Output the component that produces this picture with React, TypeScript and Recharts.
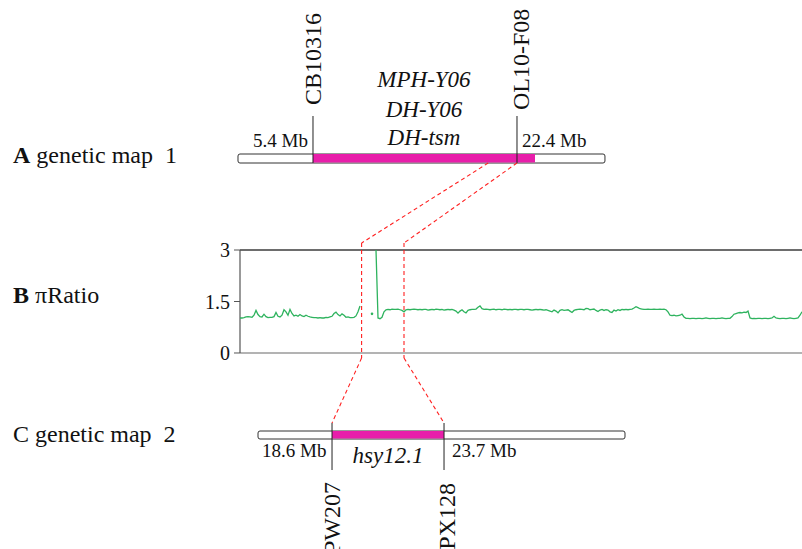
import React from 'react';
import {
  ComposedChart,
  Line,
  XAxis,
  YAxis,
  ReferenceLine,
  ReferenceArea,
  ReferenceDot
} from 'recharts';

// pi ratio per window (windows drawn 2 px apart), null = no data
const piRatio: (number | null)[] = [
  1.02, 1.02, 1.03, 1.05, 1.06, 1.05, 1.04, 1.10, 1.24, 1.12, 1.06, 1.05, 1.13, 1.06, 1.03, 1.04, 1.04, 1.06, 1.18, 1.07,
  1.05, 1.10, 1.26, 1.20, 1.10, 1.27, 1.15, 1.08, 1.10, 1.07, 1.12, 1.08, 1.06, 1.10, 1.07, 1.05, 1.04, 1.03, 1.03, 1.02,
  1.03, 1.02, 1.02, 1.04, 1.03, 1.05, 1.07, 1.15, 1.19, 1.12, 1.08, 1.14, 1.10, 1.04, 1.05, 1.03, 1.03, 1.04, 1.08, 1.20,
  1.37, null, null, null, null, null, 1.14, null, 3.0, 1.02, 1.00, 1.04, 1.20, 1.26, 1.27, 1.26, 1.28, 1.27, 1.27, 1.28,
  1.26, 1.24, 1.20, 1.26, 1.27, 1.26, 1.27, 1.28, 1.27, 1.26, 1.27, 1.26, 1.27, 1.27, 1.25, 1.26, 1.27, 1.26, 1.28, 1.27,
  1.26, 1.27, 1.25, 1.26, 1.27, 1.26, 1.27, 1.25, 1.22, 1.16, 1.22, 1.26, 1.20, 1.17, 1.24, 1.26, 1.27, 1.27, 1.28, 1.33,
  1.37, 1.29, 1.27, 1.28, 1.27, 1.26, 1.27, 1.28, 1.26, 1.27, 1.27, 1.26, 1.28, 1.27, 1.26, 1.27, 1.26, 1.27, 1.27, 1.26,
  1.27, 1.27, 1.26, 1.27, 1.27, 1.26, 1.25, 1.26, 1.27, 1.26, 1.27, 1.26, 1.25, 1.26, 1.24, 1.22, 1.20, 1.25, 1.22, 1.17,
  1.24, 1.26, 1.24, 1.25, 1.26, 1.22, 1.18, 1.24, 1.26, 1.27, 1.28, 1.27, 1.26, 1.30, 1.29, 1.26, 1.27, 1.28, 1.24, 1.21,
  1.25, 1.27, 1.24, 1.26, 1.25, 1.20, 1.18, 1.25, 1.22, 1.26, 1.24, 1.27, 1.26, 1.27, 1.26, 1.27, 1.28, 1.31, 1.35, 1.32,
  1.29, 1.28, 1.27, 1.27, 1.28, 1.27, 1.27, 1.28, 1.27, 1.27, 1.28, 1.27, 1.28, 1.26, 1.20, 1.10, 1.09, 1.10, 1.08, 1.09,
  1.10, 1.13, 1.05, 1.01, 1.01, 1.00, 1.01, 1.01, 1.00, 1.01, 1.01, 1.00, 1.01, 1.02, 1.01, 1.00, 1.01, 1.01, 1.00, 1.01,
  1.01, 1.02, 1.01, 1.00, 1.01, 1.01, 1.06, 1.13, 1.15, 1.17, 1.18, 1.17, 1.19, 1.18, 1.22, 1.02, 1.00, 1.01, 1.00, 1.01,
  1.01, 1.00, 1.01, 1.01, 1.00, 1.01, 1.02, 1.07, 1.02, 1.01, 1.00, 1.01, 1.01, 1.00, 1.01, 1.02, 1.01, 1.00, 1.01, 1.02,
  1.10, 1.20
];
const piTicks = [0, 1.5, 3];
const piRegion = [60.8, 82]; // window range linked to hsy12.1

// genetic map 1 (Mb)
const map1Chrom = [-0.85, 29.73];
const map1Qtl = [5.4, 23.9];
const map1Markers = [
  { name: 'CB10316', mb: 5.4, label: '5.4 Mb' },
  { name: 'OL10-F08', mb: 22.4, label: '22.4 Mb' }
];
const map1Genes = ['MPH-Y06', 'DH-Y06', 'DH-tsm'];
const map1Link = [20.0, 22.4];

// genetic map 2 (Mb)
const map2Chrom = [15.23, 31.94];
const map2Qtl = [18.6, 23.7];
const map2Markers = [
  { name: 'PW207', mb: 18.6, label: '18.6 Mb' },
  { name: 'PX128', mb: 23.7, label: '23.7 Mb' }
];
const map2Gene = 'hsy12.1';

const data = piRatio.map((v, i) => ({ i, ratio: v }));

const W = 802;
const H = 549;
const SERIF = '"Liberation Serif", "Times New Roman", serif';
const MAGENTA = '#e81eaa';
const GREEN = '#2eb35e';
const RED = '#ff2020';

const PI_DOMAIN = [0, 281];
const PI_Y_DOMAIN = [-5.709, 10.282];
// Mb ranges that the two maps stretch across the plot width
const M1_SPAN = [-0.683, 46.15];
const M2_SPAN = [14.41, 40.0];

// map Mb -> x on the shared window axis
const toPi = (v: number, d: number[]) =>
  PI_DOMAIN[0] + ((v - d[0]) / (d[1] - d[0])) * (PI_DOMAIN[1] - PI_DOMAIN[0]);
const m1 = (v: number) => toPi(v, M1_SPAN);
const m2 = (v: number) => toPi(v, M2_SPAN);

// row layout (px from top)
const ROW1 = { top: 154, bottom: 163, markTop: 116, mbBase: 146.5, geneBase: [87, 116.5, 145] };
const ROW2 = { top: 431, bottom: 439, markBottom: 470, mbBase: 457, geneBase: 463 };
const LINK_Y = { top: 243, bottom: 358, map2: 423 };

const txt = (content: string, o: any) => (p: any) => {
  const x = p.cx + (o.dx || 0);
  const y = p.cy;
  return (
    <text
      x={x}
      y={y}
      textAnchor={o.anchor || 'middle'}
      fontSize={o.size}
      fontStyle={o.italic ? 'italic' : 'normal'}
      fontFamily={SERIF}
      fill="#111"
      transform={o.rotate ? `rotate(-90 ${x} ${y})` : undefined}
    >
      {content}
    </text>
  );
};

const chromShape = (p: any) => (
  <rect x={p.x} y={p.y} width={p.width} height={p.height} rx={2} fill="#fff" stroke="#333" strokeWidth={1} />
);

const isolatedDot = (p: any) => {
  const i = p.index;
  const lone = piRatio[i] != null && piRatio[i - 1] == null && piRatio[i + 1] == null;
  if (!lone) return <g key={`d${i}`} />;
  return <circle key={`d${i}`} cx={p.cx} cy={p.cy} r={1.3} fill={GREEN} />;
};

const title = (top: number, bold: string, rest: string) => (
  <div
    style={{
      position: 'absolute',
      left: 13,
      top,
      fontFamily: SERIF,
      fontSize: 24,
      lineHeight: '24px',
      whiteSpace: 'pre',
      color: '#111'
    }}
  >
    {bold && <b>{bold}</b>}
    {rest}
  </div>
);

const App: React.FC = () => {
  const linkLeft = [
    { x: m1(map1Link[0]), y: ROW1.bottom },
    { x: piRegion[0], y: LINK_Y.top },
    { x: piRegion[0], y: LINK_Y.bottom },
    { x: m2(map2Qtl[0]), y: LINK_Y.map2 }
  ];
  const linkRight = [
    { x: m1(map1Link[1]), y: ROW1.bottom },
    { x: piRegion[1], y: LINK_Y.top },
    { x: piRegion[1], y: LINK_Y.bottom },
    { x: m2(map2Qtl[1]), y: LINK_Y.map2 }
  ];
  const ax = { xAxisId: 'pi', yAxisId: 'row' };

  return (
    <div style={{ position: 'relative', width: W, height: H, background: '#fff' }}>
      <style>{'body{margin:0}'}</style>
      <ComposedChart width={W} height={H} data={data} margin={{ top: 0, right: 0, bottom: 0, left: 0 }}>
        <XAxis xAxisId="pi" dataKey="i" type="number" domain={PI_DOMAIN} allowDataOverflow hide />
        <YAxis
          yAxisId="pi"
          type="number"
          width={240}
          domain={PI_Y_DOMAIN}
          allowDataOverflow
          ticks={piTicks}
          interval={0}
          axisLine={false}
          tickLine={{ stroke: '#555' }}
          tickSize={6}
          tickMargin={4}
          tick={{ fill: '#111', fontSize: 20, fontFamily: SERIF }}
        />
        <YAxis yAxisId="row" type="number" domain={[0, H]} reversed allowDataOverflow hide />

        {/* panel B frame */}
        <ReferenceLine xAxisId="pi" yAxisId="pi" y={3} stroke="#3c3c3c" strokeWidth={1.3} />
        <ReferenceLine xAxisId="pi" yAxisId="pi" y={0} stroke="#9a9a9a" strokeWidth={1.6} />
        <ReferenceLine
          xAxisId="pi"
          yAxisId="pi"
          segment={[{ x: PI_DOMAIN[0], y: 0 }, { x: PI_DOMAIN[0], y: 3 }]}
          stroke="#555"
          strokeWidth={1.2}
        />

        {/* map 1 */}
        <ReferenceArea {...ax} x1={m1(map1Chrom[0])} x2={m1(map1Chrom[1])} y1={ROW1.top} y2={ROW1.bottom}
          shape={chromShape} ifOverflow="visible" />
        <ReferenceArea {...ax} x1={m1(map1Qtl[0])} x2={m1(map1Qtl[1])} y1={ROW1.top} y2={ROW1.bottom - 0.5}
          fill={MAGENTA} fillOpacity={1} stroke="none" ifOverflow="visible" />
        {map1Markers.map((m) => (
          <ReferenceLine key={m.name} {...ax} ifOverflow="visible"
            segment={[{ x: m1(m.mb), y: ROW1.markTop }, { x: m1(m.mb), y: ROW1.bottom }]} stroke="#222" strokeWidth={1} />
        ))}

        {/* map 2 */}
        <ReferenceArea {...ax} x1={m2(map2Chrom[0])} x2={m2(map2Chrom[1])} y1={ROW2.top} y2={ROW2.bottom}
          shape={chromShape} ifOverflow="visible" />
        <ReferenceArea {...ax} x1={m2(map2Qtl[0])} x2={m2(map2Qtl[1])} y1={ROW2.top} y2={ROW2.bottom - 0.5}
          fill={MAGENTA} fillOpacity={1} stroke="none" ifOverflow="visible" />
        {map2Markers.map((m) => (
          <ReferenceLine key={m.name} {...ax} ifOverflow="visible"
            segment={[{ x: m2(m.mb), y: LINK_Y.map2 }, { x: m2(m.mb), y: ROW2.markBottom }]} stroke="#222" strokeWidth={1} />
        ))}

        {/* dashed links */}
        {[linkLeft, linkRight].map((pts, k) =>
          pts.slice(1).map((p, j) => (
            <ReferenceLine key={`l${k}${j}`} {...ax} segment={[pts[j], p]} ifOverflow="visible"
              stroke={RED} strokeWidth={1.1} strokeDasharray="4 3" />
          ))
        )}

        <Line
          xAxisId="pi"
          yAxisId="pi"
          type="linear"
          dataKey="ratio"
          stroke={GREEN}
          strokeWidth={1.3}
          dot={isolatedDot}
          activeDot={false}
          connectNulls={false}
          isAnimationActive={false}
        />

        {/* map 1 labels */}
        <ReferenceDot {...ax} x={m1(map1Markers[0].mb)} y={105} r={0} ifOverflow="visible"
          shape={txt(map1Markers[0].name, { size: 24, rotate: true, anchor: 'start', dx: 8.4 })} />
        <ReferenceDot {...ax} x={m1(map1Markers[1].mb)} y={110} r={0} ifOverflow="visible"
          shape={txt(map1Markers[1].name, { size: 24, rotate: true, anchor: 'start', dx: 12.5 })} />
        <ReferenceDot {...ax} x={m1(map1Markers[0].mb)} y={ROW1.mbBase} r={0} ifOverflow="visible"
          shape={txt(map1Markers[0].label, { size: 19, anchor: 'end', dx: -5 })} />
        <ReferenceDot {...ax} x={m1(map1Markers[1].mb)} y={ROW1.mbBase} r={0} ifOverflow="visible"
          shape={txt(map1Markers[1].label, { size: 19, anchor: 'start', dx: 5 })} />
        {map1Genes.map((g, k) => (
          <ReferenceDot key={g} {...ax} x={m1((map1Qtl[0] + map1Qtl[1]) / 2)} y={ROW1.geneBase[k]} r={0}
            ifOverflow="visible" shape={txt(g, { size: 23, italic: true })} />
        ))}

        {/* map 2 labels */}
        <ReferenceDot {...ax} x={m2(map2Markers[0].mb)} y={482} r={0} ifOverflow="visible"
          shape={txt(map2Markers[0].name, { size: 24, rotate: true, anchor: 'end', dx: 7.5 })} />
        <ReferenceDot {...ax} x={m2(map2Markers[1].mb)} y={483} r={0} ifOverflow="visible"
          shape={txt(map2Markers[1].name, { size: 24, rotate: true, anchor: 'end', dx: 11 })} />
        <ReferenceDot {...ax} x={m2(map2Markers[0].mb)} y={ROW2.mbBase} r={0} ifOverflow="visible"
          shape={txt(map2Markers[0].label, { size: 19, anchor: 'end', dx: -5.5 })} />
        <ReferenceDot {...ax} x={m2(map2Markers[1].mb)} y={ROW2.mbBase} r={0} ifOverflow="visible"
          shape={txt(map2Markers[1].label, { size: 19, anchor: 'start', dx: 8 })} />
        <ReferenceDot {...ax} x={m2((map2Qtl[0] + map2Qtl[1]) / 2)} y={ROW2.geneBase} r={0}
          ifOverflow="visible" shape={txt(map2Gene, { size: 23, italic: true })} />
      </ComposedChart>

      {title(143.2, 'A', ' genetic map  1')}
      {title(283, 'B', ' \u03c0Ratio')}
      {title(421.6, '', 'C genetic map  2')}
    </div>
  );
};

export default App;
